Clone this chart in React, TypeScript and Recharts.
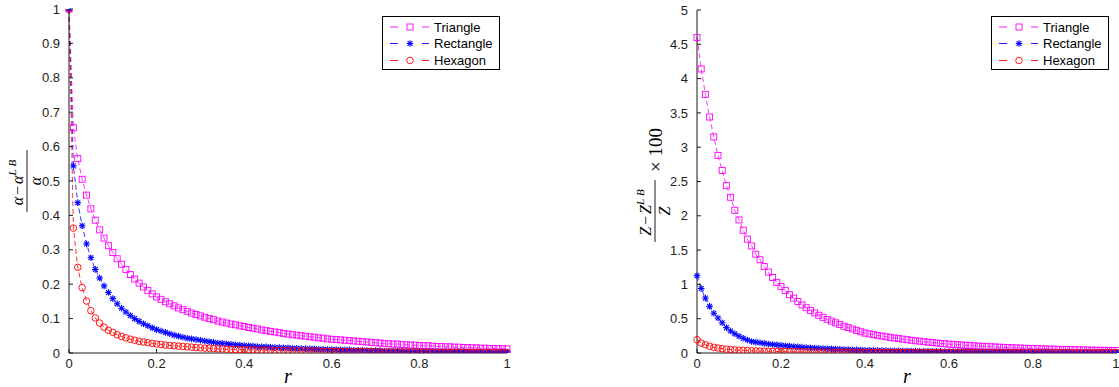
import React from 'react';
import { LineChart, Line, XAxis, YAxis } from 'recharts';

const R = [0, 0.01, 0.02, 0.03, 0.04, 0.05, 0.06, 0.07, 0.08, 0.09, 0.1, 0.11, 0.12, 0.13, 0.14, 0.15, 0.16, 0.17, 0.18, 0.19, 0.2, 0.21, 0.22, 0.23, 0.24, 0.25, 0.26, 0.27, 0.28, 0.29, 0.3, 0.31, 0.32, 0.33, 0.34, 0.35, 0.36, 0.37, 0.38, 0.39, 0.4, 0.41, 0.42, 0.43, 0.44, 0.45, 0.46, 0.47, 0.48, 0.49, 0.5, 0.51, 0.52, 0.53, 0.54, 0.55, 0.56, 0.57, 0.58, 0.59, 0.6, 0.61, 0.62, 0.63, 0.64, 0.65, 0.66, 0.67, 0.68, 0.69, 0.7, 0.71, 0.72, 0.73, 0.74, 0.75, 0.76, 0.77, 0.78, 0.79, 0.8, 0.81, 0.82, 0.83, 0.84, 0.85, 0.86, 0.87, 0.88, 0.89, 0.9, 0.91, 0.92, 0.93, 0.94, 0.95, 0.96, 0.97, 0.98, 0.99, 1];

const leftTriangle = [1.0, 0.655, 0.565, 0.505, 0.459, 0.419, 0.386, 0.358, 0.334, 0.312, 0.292, 0.274, 0.258, 0.243, 0.228, 0.215, 0.203, 0.192, 0.182, 0.172, 0.163, 0.156, 0.149, 0.143, 0.137, 0.131, 0.126, 0.121, 0.116, 0.112, 0.108, 0.104, 0.1, 0.097, 0.093, 0.09, 0.087, 0.084, 0.082, 0.079, 0.077, 0.074, 0.072, 0.07, 0.067, 0.065, 0.063, 0.061, 0.059, 0.057, 0.055, 0.053, 0.052, 0.05, 0.049, 0.047, 0.046, 0.044, 0.043, 0.041, 0.04, 0.039, 0.038, 0.037, 0.036, 0.035, 0.034, 0.033, 0.032, 0.031, 0.03, 0.029, 0.028, 0.027, 0.026, 0.026, 0.025, 0.024, 0.023, 0.023, 0.022, 0.021, 0.021, 0.02, 0.019, 0.019, 0.018, 0.018, 0.017, 0.017, 0.016, 0.016, 0.015, 0.015, 0.014, 0.014, 0.013, 0.013, 0.013, 0.012, 0.012];
const leftRectangle = [1.0, 0.544, 0.437, 0.37, 0.317, 0.277, 0.243, 0.218, 0.195, 0.176, 0.158, 0.143, 0.13, 0.119, 0.109, 0.1, 0.092, 0.085, 0.079, 0.073, 0.068, 0.064, 0.06, 0.056, 0.052, 0.049, 0.046, 0.043, 0.041, 0.039, 0.037, 0.035, 0.033, 0.031, 0.029, 0.028, 0.027, 0.025, 0.024, 0.023, 0.022, 0.021, 0.02, 0.019, 0.018, 0.018, 0.017, 0.016, 0.016, 0.015, 0.015, 0.014, 0.014, 0.013, 0.013, 0.012, 0.012, 0.011, 0.011, 0.01, 0.01, 0.01, 0.009, 0.009, 0.009, 0.008, 0.008, 0.008, 0.007, 0.007, 0.007, 0.007, 0.006, 0.006, 0.006, 0.006, 0.006, 0.005, 0.005, 0.005, 0.005, 0.005, 0.005, 0.004, 0.004, 0.004, 0.004, 0.004, 0.004, 0.004, 0.004, 0.003, 0.003, 0.003, 0.003, 0.003, 0.003, 0.003, 0.003, 0.003, 0.003];
const leftHexagon = [1.0, 0.363, 0.249, 0.19, 0.151, 0.123, 0.102, 0.087, 0.075, 0.066, 0.06, 0.053, 0.048, 0.044, 0.04, 0.037, 0.034, 0.032, 0.03, 0.028, 0.026, 0.025, 0.023, 0.022, 0.021, 0.02, 0.019, 0.018, 0.017, 0.016, 0.015, 0.014, 0.014, 0.013, 0.012, 0.012, 0.011, 0.011, 0.01, 0.01, 0.01, 0.009, 0.009, 0.009, 0.008, 0.008, 0.008, 0.007, 0.007, 0.007, 0.007, 0.006, 0.006, 0.006, 0.006, 0.006, 0.005, 0.005, 0.005, 0.005, 0.005, 0.005, 0.005, 0.004, 0.004, 0.004, 0.004, 0.004, 0.004, 0.004, 0.004, 0.003, 0.003, 0.003, 0.003, 0.003, 0.003, 0.003, 0.003, 0.003, 0.003, 0.002, 0.002, 0.002, 0.002, 0.002, 0.002, 0.002, 0.002, 0.002, 0.002, 0.002, 0.002, 0.002, 0.002, 0.001, 0.001, 0.001, 0.001, 0.001, 0.001];

const rightTriangle = [4.6, 4.14, 3.77, 3.44, 3.15, 2.88, 2.66, 2.44, 2.27, 2.08, 1.94, 1.79, 1.66, 1.56, 1.44, 1.36, 1.26, 1.18, 1.1, 1.03, 0.97, 0.91, 0.85, 0.8, 0.75, 0.7, 0.66, 0.62, 0.585, 0.55, 0.52, 0.49, 0.465, 0.44, 0.415, 0.39, 0.37, 0.35, 0.33, 0.31, 0.29, 0.279, 0.268, 0.257, 0.247, 0.237, 0.228, 0.219, 0.21, 0.202, 0.194, 0.186, 0.179, 0.172, 0.165, 0.158, 0.152, 0.146, 0.14, 0.135, 0.13, 0.125, 0.121, 0.117, 0.113, 0.109, 0.105, 0.101, 0.098, 0.094, 0.091, 0.088, 0.085, 0.082, 0.079, 0.077, 0.074, 0.072, 0.069, 0.067, 0.065, 0.063, 0.061, 0.059, 0.057, 0.055, 0.054, 0.052, 0.05, 0.049, 0.047, 0.046, 0.045, 0.043, 0.042, 0.041, 0.04, 0.039, 0.038, 0.037, 0.036];
const rightRectangle = [1.127, 0.94, 0.8, 0.68, 0.58, 0.51, 0.44, 0.37, 0.32, 0.28, 0.245, 0.215, 0.19, 0.168, 0.158, 0.149, 0.14, 0.132, 0.125, 0.118, 0.112, 0.106, 0.1, 0.095, 0.09, 0.085, 0.081, 0.077, 0.073, 0.069, 0.066, 0.063, 0.06, 0.057, 0.054, 0.052, 0.049, 0.047, 0.045, 0.043, 0.041, 0.04, 0.038, 0.037, 0.035, 0.034, 0.033, 0.032, 0.031, 0.03, 0.029, 0.028, 0.027, 0.026, 0.026, 0.025, 0.024, 0.024, 0.023, 0.022, 0.022, 0.021, 0.021, 0.02, 0.02, 0.019, 0.019, 0.018, 0.018, 0.017, 0.017, 0.017, 0.016, 0.016, 0.016, 0.015, 0.015, 0.015, 0.014, 0.014, 0.014, 0.013, 0.013, 0.013, 0.013, 0.012, 0.012, 0.012, 0.012, 0.011, 0.011, 0.011, 0.011, 0.011, 0.01, 0.01, 0.01, 0.01, 0.01, 0.01, 0.01];
const rightHexagon = [0.194, 0.146, 0.12, 0.097, 0.083, 0.072, 0.063, 0.056, 0.05, 0.045, 0.041, 0.038, 0.035, 0.032, 0.03, 0.028, 0.026, 0.025, 0.023, 0.022, 0.021, 0.02, 0.019, 0.018, 0.017, 0.016, 0.016, 0.015, 0.015, 0.014, 0.014, 0.013, 0.013, 0.012, 0.012, 0.012, 0.011, 0.011, 0.011, 0.01, 0.01, 0.01, 0.009, 0.009, 0.009, 0.009, 0.008, 0.008, 0.008, 0.008, 0.008, 0.007, 0.007, 0.007, 0.007, 0.007, 0.007, 0.007, 0.006, 0.006, 0.006, 0.006, 0.006, 0.006, 0.006, 0.006, 0.005, 0.005, 0.005, 0.005, 0.005, 0.005, 0.005, 0.005, 0.005, 0.005, 0.005, 0.004, 0.004, 0.004, 0.004, 0.004, 0.004, 0.004, 0.004, 0.004, 0.004, 0.004, 0.004, 0.004, 0.004, 0.003, 0.003, 0.003, 0.003, 0.003, 0.003, 0.003, 0.003, 0.003, 0.003];

const seriesNames = ['Triangle', 'Rectangle', 'Hexagon'];
const seriesKeys = ['tri', 'rect', 'hex'];
const seriesColors = ['#ff00ff', '#0000ff', '#ff0000'];

const xTicks = [0, 0.2, 0.4, 0.6, 0.8, 1];
const xTickLabels = ['0', '0.2', '0.4', '0.6', '0.8', '1'];
const leftYTicks = [0, 0.1, 0.2, 0.3, 0.4, 0.5, 0.6, 0.7, 0.8, 0.9, 1];
const leftYTickLabels = ['0', '0.1', '0.2', '0.3', '0.4', '0.5', '0.6', '0.7', '0.8', '0.9', '1'];
const rightYTicks = [0, 0.5, 1, 1.5, 2, 2.5, 3, 3.5, 4, 4.5, 5];
const rightYTickLabels = ['0', '0.5', '1', '1.5', '2', '2.5', '3', '3.5', '4', '4.5', '5'];

const leftData = R.map((r, i) => ({ r, tri: leftTriangle[i], rect: leftRectangle[i], hex: leftHexagon[i] }));
const rightData = R.map((r, i) => ({ r, tri: rightTriangle[i], rect: rightRectangle[i], hex: rightHexagon[i] }));

const SANS = '"Liberation Sans", Arial, Helvetica, sans-serif';
const SERIF = '"Liberation Serif", "DejaVu Serif", serif';
const AXIS = '#1a1a1a';

function Marker({ kind, cx, cy, color }: { kind: number; cx: number; cy: number; color: string }) {
  if (cx == null || cy == null || isNaN(cx) || isNaN(cy)) return null;
  if (kind === 0) {
    return <rect x={cx - 3} y={cy - 3} width={6} height={6} fill="none" stroke={color} strokeWidth={0.9} />;
  }
  if (kind === 1) {
    const s = 3.3;
    const d = 2.4;
    return (
      <g stroke={color} strokeWidth={1.1}>
        <line x1={cx - s} y1={cy} x2={cx + s} y2={cy} />
        <line x1={cx} y1={cy - s} x2={cx} y2={cy + s} />
        <line x1={cx - d} y1={cy - d} x2={cx + d} y2={cy + d} />
        <line x1={cx - d} y1={cy + d} x2={cx + d} y2={cy - d} />
      </g>
    );
  }
  return <circle cx={cx} cy={cy} r={3.3} fill="none" stroke={color} strokeWidth={0.9} />;
}

function makeDot(kind: number) {
  return (p: any) => <Marker key={`d-${kind}-${p.index}`} kind={kind} cx={p.cx} cy={p.cy} color={seriesColors[kind]} />;
}

function Legend({ x }: { x: number }) {
  const rows = [27, 43.5, 60.5];
  return (
    <g>
      <rect x={x + 0.5} y={16.5} width={117} height={53} fill="#fff" stroke="#000" strokeWidth={1} />
      {seriesNames.map((name, k) => (
        <g key={name}>
          <line x1={x + 8} y1={rows[k]} x2={x + 16} y2={rows[k]} stroke={seriesColors[k]} strokeWidth={0.9} />
          <line x1={x + 40} y1={rows[k]} x2={x + 47} y2={rows[k]} stroke={seriesColors[k]} strokeWidth={0.9} />
          <Marker kind={k} cx={x + 28} cy={rows[k]} color={seriesColors[k]} />
          <text x={x + 52} y={rows[k]} dy="0.35em" fontFamily={SANS} fontSize={13} fill="#000">{name}</text>
        </g>
      ))}
    </g>
  );
}

function RLabel(props: any) {
  const vb = props.viewBox || {};
  const cx = (vb.x ?? 0) + (vb.width ?? 0) / 2;
  return (
    <text x={cx} y={383} textAnchor="middle" fontFamily={SERIF} fontStyle="italic" fontSize={20} fill="#000">r</text>
  );
}

function Panel({ data, yTicks, yLabels, yMax, margin, width }: any) {
  return (
    <LineChart width={width} height={387} data={data} margin={margin}>
      <XAxis
        type="number"
        dataKey="r"
        domain={[0, 1]}
        ticks={xTicks}
        tickFormatter={(v: number) => xTickLabels[xTicks.indexOf(v)] ?? String(v)}
        height={34}
        tickSize={-4}
        tickMargin={10}
        stroke={AXIS}
        tick={{ fill: '#222', fontSize: 13, fontFamily: SANS }}
        label={<RLabel />}
      />
      <YAxis
        type="number"
        domain={[0, yMax]}
        ticks={yTicks}
        tickFormatter={(v: number) => yLabels[yTicks.indexOf(v)] ?? String(v)}
        width={60}
        tickSize={-4}
        tickMargin={13}
        stroke={AXIS}
        tick={{ fill: '#222', fontSize: 13, fontFamily: SANS }}
        allowDataOverflow
      />
      {seriesKeys.map((k, i) => (
        <Line
          key={k}
          type="linear"
          dataKey={k}
          name={seriesNames[i]}
          stroke={seriesColors[i]}
          strokeWidth={0.8}
          strokeDasharray="5 3"
          dot={makeDot(i)}
          activeDot={false}
          isAnimationActive={false}
        />
      ))}
    </LineChart>
  );
}

export default function App() {
  return (
    <div style={{ position: 'absolute', left: 0, top: 0, width: 1119, height: 387, background: '#fff', overflow: 'hidden' }}>
      <div style={{ position: 'absolute', left: 0, top: 0 }}>
        <Panel data={leftData} yTicks={leftYTicks} yLabels={leftYTickLabels} yMax={1} width={520} margin={{ top: 9, right: 13, bottom: 0, left: 9 }} />
      </div>
      <div style={{ position: 'absolute', left: 600, top: 0 }}>
        <Panel data={rightData} yTicks={rightYTicks} yLabels={rightYTickLabels} yMax={5} width={519} margin={{ top: 10, right: 2, bottom: 0, left: 37 }} />
      </div>
      <svg width={1119} height={387} style={{ position: 'absolute', left: 0, top: 0, pointerEvents: 'none' }}>
        <Legend x={382} />
        <Legend x={991} />
        <g transform="translate(27,181) rotate(-90)" fontFamily={SERIF} fill="#000">
          <text x={0} y={-4} textAnchor="middle" fontSize={16} fontStyle="italic">
            α<tspan fontStyle="normal" dx={2}>−</tspan><tspan dx={2}>α</tspan>
            <tspan dy={-7} fontSize={11} letterSpacing={3}>LB</tspan>
          </text>
          <line x1={-31} y1={0} x2={31} y2={0} stroke="#000" strokeWidth={0.9} />
          <text x={0} y={14} textAnchor="middle" fontSize={16} fontStyle="italic">α</text>
        </g>
        <g transform="translate(655,211) rotate(-90)" fontFamily={SERIF} fill="#000">
          <text x={0} y={-4} textAnchor="middle" fontSize={16} fontStyle="italic">
            Z<tspan fontStyle="normal" dx={2}>−</tspan><tspan dx={2}>Z</tspan>
            <tspan dy={-7} fontSize={11} letterSpacing={3}>LB</tspan>
          </text>
          <line x1={-31} y1={0} x2={31} y2={0} stroke="#000" strokeWidth={0.9} />
          <text x={0} y={15} textAnchor="middle" fontSize={16} fontStyle="italic">Z</text>
          <text x={39} y={7} textAnchor="start" fontSize={19}>× 100</text>
        </g>
      </svg>
    </div>
  );
}
